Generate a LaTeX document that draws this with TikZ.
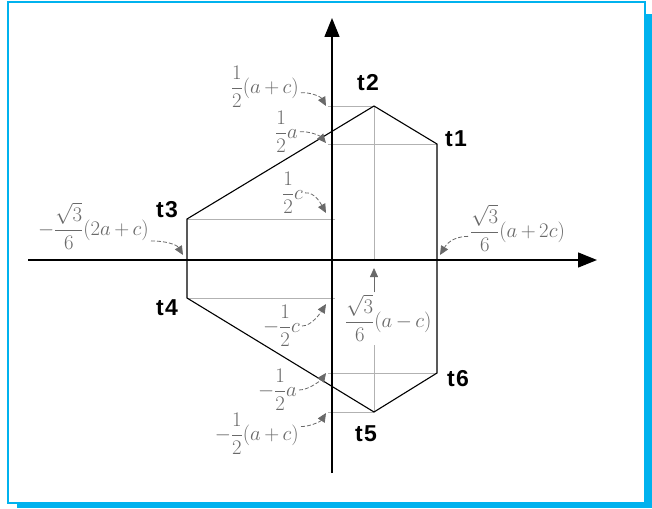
\documentclass[tikz,border=0pt]{standalone}
\usepackage{fontspec}
\newfontfamily\tfont{Liberation Sans}
\usetikzlibrary{arrows.meta}
\definecolor{framec}{RGB}{0,178,238}
\definecolor{guide}{RGB}{178,178,178}
\definecolor{lbl}{RGB}{105,105,105}
\newcommand{\mlab}[1]{$\displaystyle\medmuskip=3mu\relax #1$}
\tikzset{
 axisline/.style={line width=1.4pt, -{Triangle[length=19pt,width=15pt]}},
 hexline/.style={line width=1.1pt},
 guideline/.style={draw=guide, line width=0.9pt},
 mlabel/.style={text=lbl, inner sep=0pt, font=\fontsize{20.74}{22}\selectfont},
 vlabel/.style={inner sep=0pt, font=\tfont\bfseries\fontsize{23}{23}\selectfont},
 pointer/.style={draw=lbl, line width=0.8pt, dash pattern=on 4pt off 2pt, shorten <=2pt,
   -{Triangle[length=9pt,width=8pt,fill=lbl]}},
}
\begin{document}
\begin{tikzpicture}[x=1pt,y=-1pt]
\useasboundingbox (0,0) rectangle (652,508);
% frame
\coordinate (F1) at (8,2); \coordinate (F2) at (645,503);
\draw[framec, line width=1.5pt] (F1) rectangle (F2);
\fill[framec] (645.5,14) rectangle (652,508);
\fill[framec] (17,503.5) rectangle (652,508);
% hexagon vertices
\coordinate (T1) at (437,144);
\coordinate (T2) at (374,106);
\coordinate (T3) at (187,219);
\coordinate (T4) at (187,298);
\coordinate (T5) at (374,412);
\coordinate (T6) at (437,373);
% guide ends
\coordinate (G2) at (328,106);
\coordinate (G1) at (328,144);
\coordinate (G3) at (335,219);
\coordinate (G4) at (335,298);
\coordinate (G6) at (328,373);
\coordinate (G5) at (328,412);
\coordinate (GA) at (374,260);
\coordinate (GB) at (374,345);
\draw[guideline] (G2) -- (T2);
\draw[guideline] (G1) -- (T1);
\draw[guideline] (T3) -- (G3);
\draw[guideline] (T4) -- (G4);
\draw[guideline] (G6) -- (T6);
\draw[guideline] (G5) -- (T5);
\draw[guideline] (T2) -- (GA);
\draw[guideline] (GB) -- (T5);
% hexagon
\draw[hexline] (T1) -- (T2) -- (T3) -- (T4) -- (T5) -- (T6) -- cycle;
% axes
\coordinate (XS) at (28,260); \coordinate (XE) at (597,260);
\coordinate (YS) at (332,473); \coordinate (YE) at (332,18);
\draw[axisline] (XS) -- (XE);
\draw[axisline] (YS) -- (YE);
% vertex labels
\node[vlabel] (t1) at (456,139) {t\kern1.5pt1};
\node[vlabel] (t2) at (368,83) {t\kern1.5pt2};
\node[vlabel] (t3) at (167,210) {t\kern1.5pt3};
\node[vlabel] (t4) at (167,308) {t\kern1.5pt4};
\node[vlabel] (t5) at (366,434) {t\kern1.5pt5};
\node[vlabel] (t6) at (458,379) {t\kern1.5pt6};
% math labels
\node[mlabel, anchor=east] (L1) at (299,87) {\mlab{\frac{1}{2}\bigl(a+c\bigr)}};
\node[mlabel, anchor=east] (L2) at (298,132) {\mlab{\frac{1}{2}a}};
\node[mlabel, anchor=east] (L3) at (303,193) {\mlab{\frac{1}{2}c}};
\node[mlabel, anchor=east] (L4) at (149,226) {\mlab{-\frac{\sqrt{3}}{6}\bigl(2a+c\bigr)}};
\node[mlabel, anchor=west] (L5) at (470,228) {\mlab{\frac{\sqrt{3}}{6}\bigl(a+2c\bigr)}};
\node[mlabel, anchor=west] (L6) at (345,318) {\mlab{\frac{\sqrt{3}}{6}\bigl(a-c\bigr)}};
\node[mlabel, anchor=east] (L7) at (300,326) {\mlab{-\frac{1}{2}c}};
\node[mlabel, anchor=east] (L8) at (297,390) {\mlab{-\frac{1}{2}a}};
\node[mlabel, anchor=east] (L9) at (299,434) {\mlab{-\frac{1}{2}\bigl(a+c\bigr)}};
% pointer tips
\coordinate (P1) at (326,106);
\coordinate (P2) at (326,143);
\coordinate (P3) at (326,213);
\coordinate (P4) at (183,255);
\coordinate (P5) at (440,255);
\coordinate (P6) at (374,268);
\coordinate (P7) at (326,304);
\coordinate (P8) at (326,373);
\coordinate (P9) at (326,413);
\draw[pointer] (L1.-10) .. controls +(12,-1) and +(-5,-9) .. (P1);
\draw[pointer] (L2.east) .. controls +(12,-1) and +(-6,-7) .. (P2);
\draw[pointer] (L3.east) .. controls +(12,-1) and +(-5,-9) .. (P3);
\draw[pointer] (L4.-15) .. controls +(18,0) and +(-6,-10) .. (P4);
\draw[pointer] (L5.190) .. controls +(-18,0) and +(6,-10) .. (P5);
\draw[pointer, dash pattern={}] (L6.north -| P6) -- (P6);
\draw[pointer] (L7.east) .. controls +(12,0) and +(-5,8) .. (P7);
\draw[pointer] (L8.east) .. controls +(12,0) and +(-5,7) .. (P8);
\draw[pointer] (L9.10) .. controls +(12,0) and +(-5,8) .. (P9);
\end{tikzpicture}
\end{document}
